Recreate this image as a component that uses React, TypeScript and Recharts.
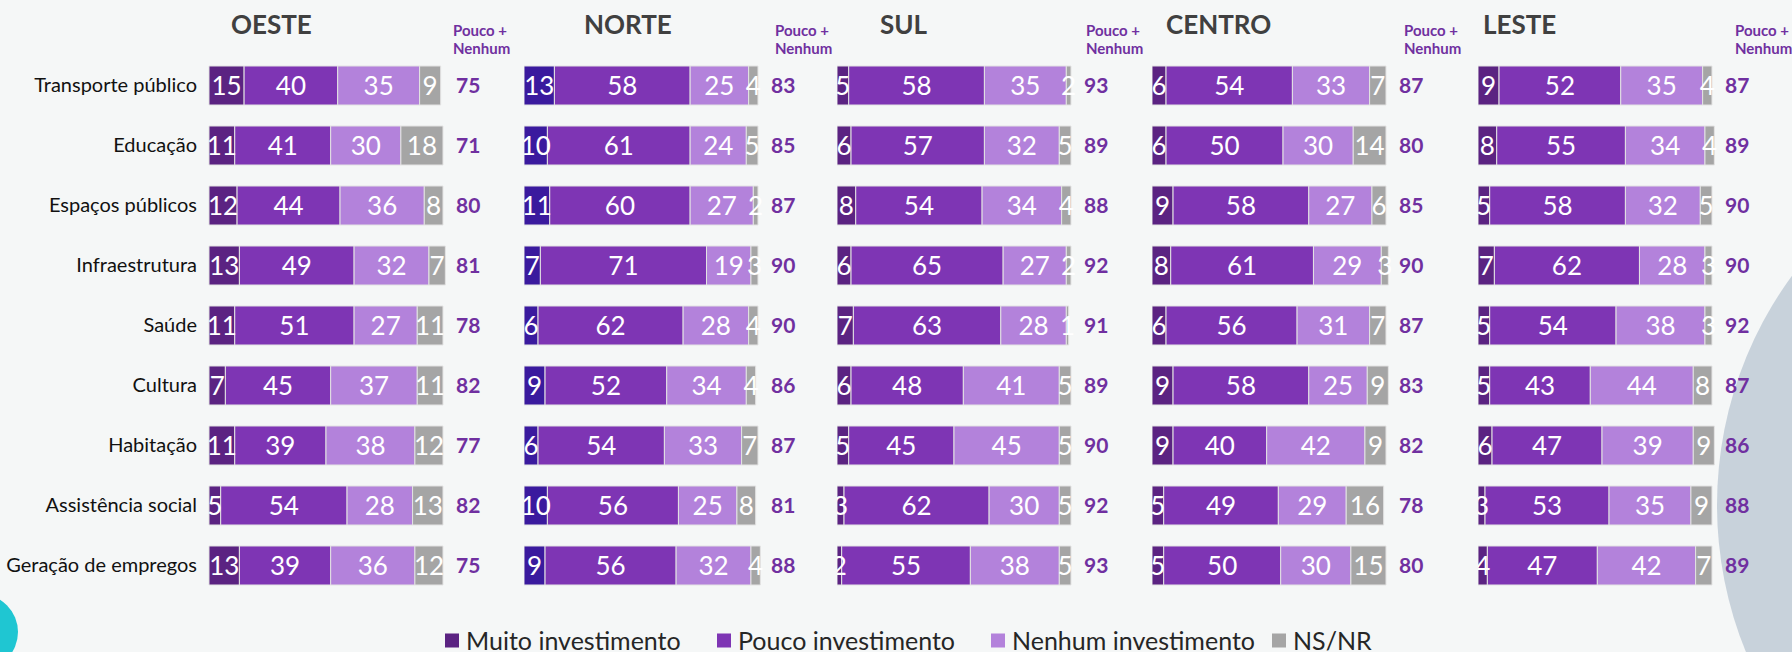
import React from "react";
import { BarChart, Bar, XAxis, YAxis, LabelList } from "recharts";

const categories = [
  "Transporte público",
  "Educação",
  "Espaços públicos",
  "Infraestrutura",
  "Saúde",
  "Cultura",
  "Habitação",
  "Assistência social",
  "Geração de empregos",
];

const seriesNames = ["Muito investimento", "Pouco investimento", "Nenhum investimento", "NS/NR"];

// OESTE
const oesteMuito = [15, 11, 12, 13, 11, 7, 11, 5, 13];
const oestePouco = [40, 41, 44, 49, 51, 45, 39, 54, 39];
const oesteNenhum = [35, 30, 36, 32, 27, 37, 38, 28, 36];
const oesteNsnr = [9, 18, 8, 7, 11, 11, 12, 13, 12];
const oesteTotal = [75, 71, 80, 81, 78, 82, 77, 82, 75];

// NORTE
const norteMuito = [13, 10, 11, 7, 6, 9, 6, 10, 9];
const nortePouco = [58, 61, 60, 71, 62, 52, 54, 56, 56];
const norteNenhum = [25, 24, 27, 19, 28, 34, 33, 25, 32];
const norteNsnr = [4, 5, 2, 3, 4, 4, 7, 8, 4];
const norteTotal = [83, 85, 87, 90, 90, 86, 87, 81, 88];

// SUL
const sulMuito = [5, 6, 8, 6, 7, 6, 5, 3, 2];
const sulPouco = [58, 57, 54, 65, 63, 48, 45, 62, 55];
const sulNenhum = [35, 32, 34, 27, 28, 41, 45, 30, 38];
const sulNsnr = [2, 5, 4, 2, 1, 5, 5, 5, 5];
const sulTotal = [93, 89, 88, 92, 91, 89, 90, 92, 93];

// CENTRO
const centroMuito = [6, 6, 9, 8, 6, 9, 9, 5, 5];
const centroPouco = [54, 50, 58, 61, 56, 58, 40, 49, 50];
const centroNenhum = [33, 30, 27, 29, 31, 25, 42, 29, 30];
const centroNsnr = [7, 14, 6, 3, 7, 9, 9, 16, 15];
const centroTotal = [87, 80, 85, 90, 87, 83, 82, 78, 80];

// LESTE
const lesteMuito = [9, 8, 5, 7, 5, 5, 6, 3, 4];
const lestePouco = [52, 55, 58, 62, 54, 43, 47, 53, 47];
const lesteNenhum = [35, 34, 32, 28, 38, 44, 39, 35, 42];
const lesteNsnr = [4, 4, 5, 3, 3, 8, 9, 9, 7];
const lesteTotal = [87, 89, 90, 90, 92, 87, 86, 88, 89];

const MUITO = "#5b2382";
const MUITO_NORTE = "#3a1a9e";
const POUCO = "#7e35b4";
const NENHUM = "#b382db";
const NSNR = "#a5a5a5";
const TOTAL = "#7030a0";
const FONT = "Lato, 'Open Sans', sans-serif";

// 100% of a bar is 234px; the axis runs a bit past 100 so the totals column fits
const PCT_W = 2.34;
const AXIS_END = 116;
const PLOT_W = PCT_W * AXIS_END;
const CHART_H = 600;

function buildRows(muito: number[], pouco: number[], nenhum: number[], nsnr: number[], total: number[]) {
  return categories.map((name, i) => ({
    name,
    muito: muito[i],
    pouco: pouco[i],
    nenhum: nenhum[i],
    nsnr: nsnr[i],
    total: total[i],
    // invisible filler up to the axis end, carries the "Pouco + Nenhum" total
    pad: AXIS_END - (muito[i] + pouco[i] + nenhum[i] + nsnr[i]),
  }));
}

const panels = [
  { title: "OESTE", rows: buildRows(oesteMuito, oestePouco, oesteNenhum, oesteNsnr, oesteTotal), muito: MUITO, left: 209, titleX: 231, headX: 453 },
  { title: "NORTE", rows: buildRows(norteMuito, nortePouco, norteNenhum, norteNsnr, norteTotal), muito: MUITO_NORTE, left: 524, titleX: 584, headX: 775 },
  { title: "SUL", rows: buildRows(sulMuito, sulPouco, sulNenhum, sulNsnr, sulTotal), muito: MUITO, left: 837, titleX: 880, headX: 1086 },
  { title: "CENTRO", rows: buildRows(centroMuito, centroPouco, centroNenhum, centroNsnr, centroTotal), muito: MUITO, left: 1152, titleX: 1166, headX: 1404 },
  { title: "LESTE", rows: buildRows(lesteMuito, lestePouco, lesteNenhum, lesteNsnr, lesteTotal), muito: MUITO, left: 1478, titleX: 1483, headX: 1735 },
];

const legendItems = [
  { name: seriesNames[0], color: MUITO, x: 445 },
  { name: seriesNames[1], color: POUCO, x: 717 },
  { name: seriesNames[2], color: NENHUM, x: 991 },
  { name: seriesNames[3], color: NSNR, x: 1272 },
];

const segLabel = { fill: "#ffffff", fontSize: 26, fontFamily: FONT };

function Panel({ p, withAxis }: { p: (typeof panels)[number]; withAxis: boolean }) {
  const axisW = withAxis ? p.left : 0;
  return (
    <div style={{ position: "absolute", left: p.left - axisW, top: 0 }}>
      <BarChart
        layout="vertical"
        width={axisW + PLOT_W + 8}
        height={CHART_H}
        data={p.rows}
        margin={{ top: 55, right: 8, bottom: 5, left: 0 }}
        barSize={39}
        style={{ fontFamily: FONT }}
      >
        <XAxis type="number" domain={[0, AXIS_END]} hide />
        <YAxis
          type="category"
          dataKey="name"
          hide={!withAxis}
          width={axisW}
          interval={0}
          axisLine={false}
          tickLine={false}
          tickSize={0}
          tickMargin={12}
          tick={{ fill: "#111111", fontSize: 20, fontFamily: FONT }}
        />
        <Bar dataKey="muito" stackId="s" fill={p.muito} stroke="#e3e3e3" strokeWidth={1} isAnimationActive={false}>
          <LabelList dataKey="muito" position="center" {...segLabel} />
        </Bar>
        <Bar dataKey="pouco" stackId="s" fill={POUCO} stroke="#e3e3e3" strokeWidth={1} isAnimationActive={false}>
          <LabelList dataKey="pouco" position="center" {...segLabel} />
        </Bar>
        <Bar dataKey="nenhum" stackId="s" fill={NENHUM} stroke="#e3e3e3" strokeWidth={1} isAnimationActive={false}>
          <LabelList dataKey="nenhum" position="center" {...segLabel} />
        </Bar>
        <Bar dataKey="nsnr" stackId="s" fill={NSNR} stroke="#e3e3e3" strokeWidth={1} isAnimationActive={false}>
          <LabelList dataKey="nsnr" position="center" {...segLabel} />
        </Bar>
        <Bar dataKey="pad" stackId="s" fill="transparent" isAnimationActive={false}>
          <LabelList
            dataKey="total"
            position="insideRight"
            offset={0}
            fill={TOTAL}
            fontSize={21}
            fontWeight="bold"
            fontFamily={FONT}
          />
        </Bar>
      </BarChart>
    </div>
  );
}

export default function App() {
  return (
    <div
      style={{
        position: "absolute",
        left: 0,
        top: 0,
        width: 1792,
        height: 652,
        background: "#f5f7f7",
        overflow: "hidden",
        fontFamily: FONT,
      }}
    >
      <svg width={1792} height={652} style={{ position: "absolute", left: 0, top: 0 }}>
        <circle cx={2105} cy={505} r={388} fill="#c8d2db" />
        <circle cx={-20} cy={632} r={38} fill="#1fc6d2" />
      </svg>

      {panels.map((p) => (
        <React.Fragment key={p.title}>
          <div
            style={{
              position: "absolute",
              left: p.titleX,
              top: 24,
              transform: "translateY(-50%)",
              fontSize: 26,
              fontWeight: 700,
              color: "#404040",
              lineHeight: 1,
            }}
          >
            {p.title}
          </div>
          <div
            style={{
              position: "absolute",
              left: p.headX,
              top: 21,
              fontSize: 15,
              fontWeight: 700,
              color: TOTAL,
              lineHeight: "18px",
            }}
          >
            Pouco +
            <br />
            Nenhum
          </div>
        </React.Fragment>
      ))}

      {panels.map((p, i) => (
        <Panel key={p.title} p={p} withAxis={i === 0} />
      ))}

      {legendItems.map((it) => (
        <div
          key={it.name}
          style={{
            position: "absolute",
            left: it.x,
            top: 640,
            transform: "translateY(-50%)",
            display: "flex",
            alignItems: "center",
            fontSize: 25,
            color: "#262626",
            whiteSpace: "nowrap",
            lineHeight: 1,
          }}
        >
          <span style={{ display: "inline-block", width: 14, height: 14, background: it.color, marginRight: 7 }} />
          {it.name}
        </div>
      ))}
    </div>
  );
}
